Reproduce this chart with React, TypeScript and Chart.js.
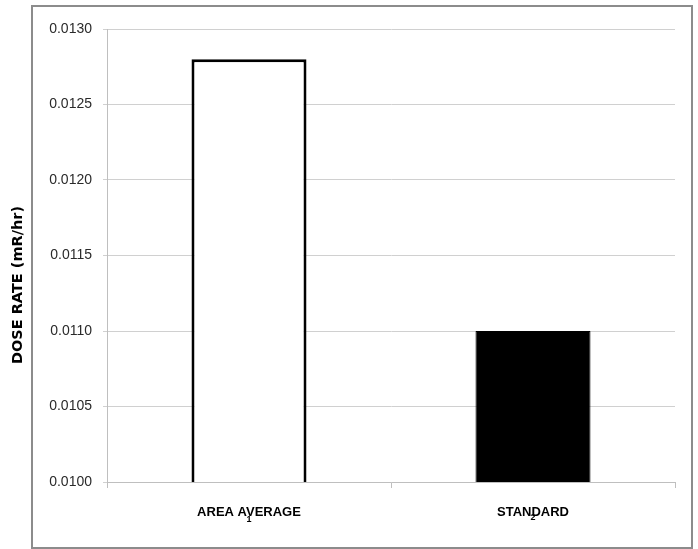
import React, { useEffect, useRef } from "react";
import { Chart, registerables } from "chart.js";

Chart.register(...registerables);

const categories = ["AREA AVERAGE", "STANDARD"];
const categoryNumbers = ["1", "2"];
const doseRates = [0.0128, 0.011];
const barFills = ["#ffffff", "#000000"];
const yMin = 0.01;
const yMax = 0.013;
const yStep = 0.0005;
const yTitle = "DOSE RATE (mR/hr)";

const framePlugin = {
  id: "frame",
  beforeDraw(chart: any) {
    const ctx = chart.ctx;
    ctx.save();
    ctx.fillStyle = "#ffffff";
    ctx.fillRect(0, 0, chart.width, chart.height);
    ctx.strokeStyle = "#8c8c8c";
    ctx.lineWidth = 2;
    ctx.strokeRect(32, 6, 660, 542);
    ctx.restore();
  },
  afterDraw(chart: any) {
    const ctx = chart.ctx;
    const xs = chart.scales.x;
    ctx.save();
    ctx.fillStyle = "#000000";
    ctx.font = "bold 9px 'Liberation Sans', Arial, sans-serif";
    ctx.textAlign = "center";
    ctx.textBaseline = "middle";
    categoryNumbers.forEach((n, i) => {
      const x = xs.getPixelForValue(i);
      ctx.fillText(n, x, 520 - i * 2);
    });
    // y-axis title, placed as in the reference (outside the frame)
    ctx.translate(18, 285);
    ctx.rotate(-Math.PI / 2);
    ctx.font = "bold 14.5px 'DejaVu Sans', sans-serif";
    ctx.fillText(yTitle, 0, 0);
    ctx.restore();
  },
};

export default function App() {
  const ref = useRef<HTMLCanvasElement>(null);
  useEffect(() => {
    if (!ref.current) return;
    const chart = new Chart(ref.current, {
      type: "bar",
      data: {
        labels: categories,
        datasets: [
          {
            data: doseRates,
            backgroundColor: barFills,
            borderColor: "#000000",
            borderWidth: [3, 1],
            barPercentage: 0.405,
            categoryPercentage: 1,
          },
        ],
      },
      options: {
        animation: false,
        responsive: false,
        maintainAspectRatio: false,
        layout: { padding: { left: 0, top: 29, right: 23, bottom: 0 } },
        plugins: { legend: { display: false }, tooltip: { enabled: false } },
        scales: {
          x: {
            afterFit: (s: any) => {
              s.height = 67;
            },
            grid: {
              drawOnChartArea: false,
              drawTicks: true,
              tickLength: 6,
              color: "#bfbfbf",
              offset: true,
            },
            border: { color: "#bfbfbf", width: 1 },
            ticks: {
              color: "#000000",
              padding: 17,
              font: {
                family: "'Liberation Sans Narrow', 'Arial Narrow', 'Liberation Sans', sans-serif",
                weight: "bold",
                size: 13,
              },
            },
          },
          y: {
            min: yMin,
            max: yMax,
            afterFit: (s: any) => {
              s.width = 107;
            },
            grid: { color: "#d0d0d0", tickLength: 4, lineWidth: 1 },
            border: { color: "#bfbfbf", width: 1 },
            ticks: {
              stepSize: yStep,
              padding: 11,
              color: "#2a2a2a",
              font: { family: "'Liberation Sans', Arial, sans-serif", size: 14 },
              callback: (v: any) => Number(v).toFixed(4),
            },
            title: { display: false },
          },
        },
      },
      plugins: [framePlugin],
    });
    return () => chart.destroy();
  }, []);
  return (
    <div style={{ position: "absolute", left: 0, top: 0, width: 698, height: 549 }}>
      <canvas ref={ref} width={698} height={549} style={{ width: 698, height: 549, display: "block" }} />
    </div>
  );
}
